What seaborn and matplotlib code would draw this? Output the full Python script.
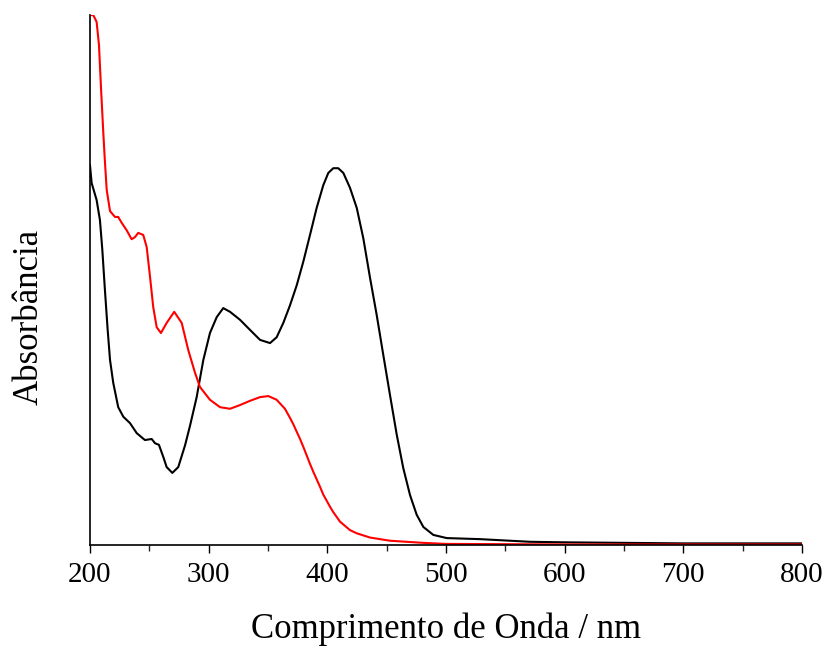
import matplotlib
matplotlib.use("Agg")

import numpy as np
import pandas as pd
import matplotlib.pyplot as plt
import seaborn as sns
from matplotlib.ticker import MultipleLocator

# black spectrum (wavelength nm, absorbance a.u.)
black_nm = [200, 201.4, 205.6, 208.4, 210.4, 212.6, 214.9, 216.9, 219.6, 223.8,
            228.1, 233.7, 239.4, 246.3, 252.0, 254.8, 258.1, 261.8, 264.6, 269.4,
            274.4, 280.1, 284.3, 289.9, 295.5, 301.1, 306.8, 312.3, 318.0, 326.4,
            334.8, 343.3, 351.7, 357.3, 362.9, 368.5, 374.2, 379.8, 385.4, 391.0,
            396.6, 400.8, 405.0, 409.2, 413.5, 419.1, 424.8, 430.3, 436.0, 441.6,
            447.2, 452.8, 458.5, 464.0, 469.7, 475.3, 480.9, 489.3, 500.6, 528.6,
            570.8, 600, 650, 700, 800]
black_abs = [0.717, 0.683, 0.651, 0.613, 0.557, 0.481, 0.406, 0.349, 0.306, 0.260,
             0.242, 0.230, 0.211, 0.198, 0.200, 0.192, 0.189, 0.166, 0.147, 0.136,
             0.147, 0.188, 0.225, 0.279, 0.349, 0.400, 0.430, 0.447, 0.440, 0.425,
             0.406, 0.387, 0.381, 0.392, 0.419, 0.452, 0.490, 0.535, 0.585, 0.636,
             0.679, 0.702, 0.711, 0.711, 0.702, 0.674, 0.636, 0.579, 0.504, 0.434,
             0.358, 0.283, 0.208, 0.145, 0.094, 0.057, 0.034, 0.019, 0.013, 0.011,
             0.006, 0.005, 0.004, 0.003, 0.003]

# red spectrum
red_nm = [200, 202.8, 205.6, 207.6, 209.3, 211.2, 212.6, 214.1, 216.9, 221.1,
          223.8, 226.7, 230.9, 235.1, 237.9, 240.7, 244.9, 247.8, 250.6, 253.3,
          256.2, 259.8, 264.6, 271.0, 277.3, 282.8, 288.5, 292.7, 301.1, 309.6,
          318.0, 326.4, 334.8, 343.3, 350.3, 357.3, 364.3, 368.5, 371.3, 377.0,
          379.8, 385.4, 388.2, 393.8, 396.6, 402.3, 405.0, 410.7, 419.1, 424.8,
          436.0, 452.8, 480.6, 500, 600, 700, 800]
red_abs = [1.0, 1.0, 0.987, 0.943, 0.862, 0.779, 0.723, 0.670, 0.630, 0.619,
           0.619, 0.608, 0.594, 0.577, 0.581, 0.589, 0.585, 0.562, 0.506, 0.449,
           0.411, 0.400, 0.419, 0.440, 0.419, 0.368, 0.325, 0.298, 0.274, 0.260,
           0.257, 0.264, 0.272, 0.279, 0.281, 0.274, 0.257, 0.240, 0.228, 0.200,
           0.185, 0.153, 0.138, 0.110, 0.095, 0.072, 0.062, 0.044, 0.028, 0.022,
           0.014, 0.008, 0.004, 0.002, 0.001, 0.001, 0.001]

black = pd.DataFrame({"nm": black_nm, "abs": black_abs})
red = pd.DataFrame({"nm": red_nm, "abs": red_abs})

sns.set_theme(style="ticks")
plt.rcParams["font.family"] = ["Liberation Serif", "DejaVu Serif"]

fig = plt.figure(figsize=(8.27, 6.47), dpi=100)
ax = fig.add_axes([0.1088, 0.1577, 0.861, 0.819])

sns.lineplot(data=black, x="nm", y="abs", color="black", linewidth=1.5, ax=ax)
sns.lineplot(data=red, x="nm", y="abs", color="#ff0000", linewidth=1.5, ax=ax)

ax.set_xlim(200, 800)
ax.set_ylim(0, 1.0)
ax.xaxis.set_major_locator(MultipleLocator(100))
ax.xaxis.set_minor_locator(MultipleLocator(50))
ax.set_yticks([])
ax.tick_params(axis="x", which="major", direction="out", length=6, width=1,
               labelsize=21, colors="black", pad=6)
ax.tick_params(axis="x", which="minor", direction="out", length=4, width=1)
for side in ["top", "right"]:
    ax.spines[side].set_visible(False)
for side in ["left", "bottom"]:
    ax.spines[side].set_color("black")
    ax.spines[side].set_linewidth(1.2)

ax.set_xlabel("Comprimento de Onda / nm", fontsize=25, color="black", labelpad=18)
ax.set_ylabel("Absorbância", fontsize=25, color="black")
ax.yaxis.set_label_coords(-0.062, 0.43)

fig.savefig("out.png", dpi=100)
